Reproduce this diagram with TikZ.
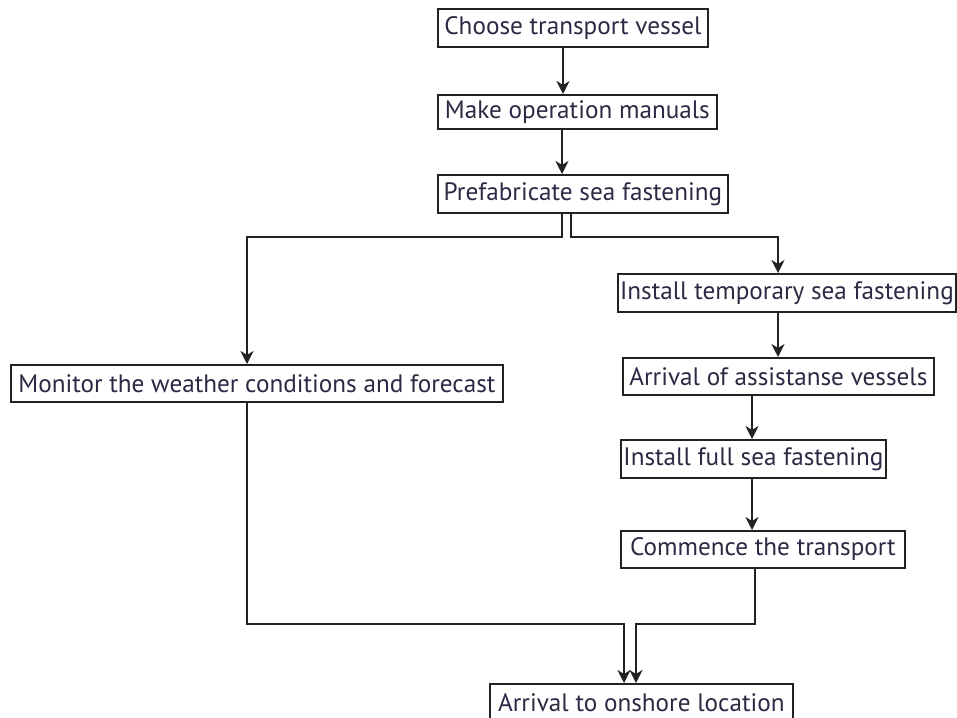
\documentclass[tikz,border=0pt]{standalone}
\usepackage{fontspec}
\setmainfont{PT Sans}
\usetikzlibrary{arrows.meta}
\definecolor{linec}{HTML}{222222}
\definecolor{textc}{HTML}{2A2A44}
\begin{document}
\begin{tikzpicture}[x=1pt,y=-1pt,
  stepbox/.style={draw=linec, line width=1.8pt, anchor=north west, inner sep=0pt,
    font=\fontsize{25.2}{27}\selectfont, text=textc},
  link/.style={draw=linec, line width=1.8pt},
  arr/.style={link, -{Stealth[length=13pt,width=13pt,inset=4pt]}}]
\clip (0,0) rectangle (957,717);
\fill[white] (0,0) rectangle (957,717);

% process steps
\node[stepbox, minimum width=270pt, minimum height=38pt] (b1)  at (437,8)   {Choose transport vessel};
\node[stepbox, minimum width=279pt, minimum height=34pt] (b2)  at (437,94)  {Make operation manuals};
\node[stepbox, minimum width=290pt, minimum height=38pt] (b3)  at (437,174) {Prefabricate sea fastening};
\node[stepbox, minimum width=492pt, minimum height=37pt] (mon) at (10,364)  {Monitor the weather conditions and forecast};
\node[stepbox, minimum width=338pt, minimum height=38pt] (tmp) at (617,273) {Install temporary sea fastening};
\node[stepbox, minimum width=311pt, minimum height=37pt] (ava) at (622,357) {Arrival of assistanse vessels};
\node[stepbox, minimum width=265pt, minimum height=38pt] (ful) at (620,439) {Install full sea fastening};
\node[stepbox, minimum width=284pt, minimum height=37pt] (com) at (620,530) {Commence the transport};
\node[stepbox, minimum width=303pt, minimum height=38pt] (fin) at (489,683) {Arrival to onshore location};

% vertical tracks of the connectors
\coordinate (t1) at (563,0);
\coordinate (t2) at (562,0);
\coordinate (sL) at (562,237);
\coordinate (sR) at (571,237);
\coordinate (mx) at (247,0);
\coordinate (tx) at (778,0);
\coordinate (cx) at (752,0);
\coordinate (cy) at (755,0);
\coordinate (jL) at (624,624);
\coordinate (jR) at (636,624);

% main sequence
\draw[arr] (b1.south -| t1) -- (b2.north -| t1);
\draw[arr] (b2.south -| t2) -- (b3.north -| t2);

% split into the two branches
\draw[arr] (b3.south -| sL) -- (sL) -| (mon.north -| mx);
\draw[arr] (b3.south -| sR) -- (sR) -| (tmp.north -| tx);

% right branch
\draw[arr] (tmp.south -| tx) -- (ava.north -| tx);
\draw[arr] (ava.south -| cx) -- (ful.north -| cx);
\draw[arr] (ful.south -| cx) -- (com.north -| cx);

% both branches join at the final step
\draw[arr] (mon.south -| mx) |- (jL) -- (fin.north -| jL);
\draw[arr] (com.south -| cy) |- (jR) -- (fin.north -| jR);
\end{tikzpicture}
\end{document}
